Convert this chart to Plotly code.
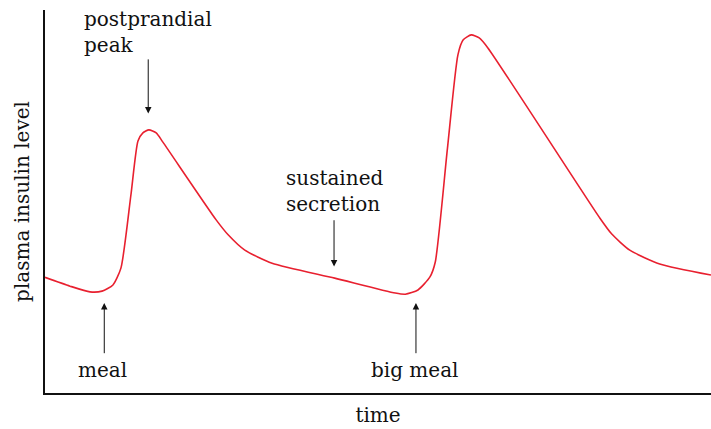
import plotly.graph_objects as go

# Plasma insulin level over time (arbitrary units, 0-100 on both axes)
time = [0, 3.75, 6.76, 8.56, 10.2, 11.4, 12.9, 13.96, 14.7, 15.6, 16.7, 17.7,
        25.7, 27.5, 30.0, 34.1, 43.5, 52.6, 54.1, 56.0, 57.8, 58.6, 60.4, 62.0,
        62.8, 64.0, 65.2, 66.5, 83.3, 85.1, 87.8, 92.3, 100]
insulin = [30.2, 27.9, 26.4, 26.6, 28.2, 32.6, 51.7, 65.8, 67.9, 68.7, 67.9, 65.5,
           45.2, 41.3, 37.3, 33.9, 30.0, 26.1, 25.8, 26.9, 30.3, 34.2, 63.4, 88.3,
           92.2, 93.5, 92.7, 90.1, 45.7, 41.5, 37.3, 33.7, 30.8]

# Annotation labels: (text, text x, text top y, arrow tail y, arrow head y, arrow x, align)
labels = [
    ("postprandial<br>peak", 5.6, 101.2, 87.5, 73.0, 15.5, "left"),
    ("meal", 8.6, 9.7, 10.0, 23.5, 8.9, "center"),
    ("sustained<br>secretion", 35.9, 59.8, 45.5, 33.0, 43.4, "left"),
    ("big meal", 55.5, 9.7, 10.0, 23.5, 55.7, "center"),
]

FONT = "DejaVu Serif"
SIZE = 20

fig = go.Figure()
fig.add_trace(go.Scatter(
    x=time, y=insulin, mode="lines",
    line=dict(color="#e8202f", width=1.6, shape="spline", smoothing=0.6),
    hoverinfo="skip", showlegend=False,
))

for text, tx, ty, tail_y, head_y, ax_x, align in labels:
    # text placed in paper units so labels above the top of the axis still show
    fig.add_annotation(
        x=tx / 100, y=ty / 100, xref="paper", yref="paper", text=text,
        showarrow=False,
        xanchor="left" if align == "left" else "center", yanchor="top",
        align=align, font=dict(family=FONT, size=SIZE, color="#111"),
    )
    fig.add_annotation(
        x=ax_x, y=head_y, ax=ax_x, ay=tail_y, xref="x", yref="y",
        axref="x", ayref="y", text="", showarrow=True,
        arrowhead=2, arrowsize=1.3, arrowwidth=1, arrowcolor="#111",
    )

fig.update_layout(
    width=711, height=429,
    margin=dict(l=45, r=0, t=10, b=36),
    paper_bgcolor="white", plot_bgcolor="white",
    font=dict(family=FONT, size=SIZE, color="#111"),
    xaxis=dict(
        range=[0, 100], showline=True, linecolor="#111", linewidth=1.6,
        showgrid=False, zeroline=False, showticklabels=False, ticks="",
        title=dict(text="time", standoff=14, font=dict(family=FONT, size=SIZE)),
    ),
    yaxis=dict(
        range=[0, 100], showline=True, linecolor="#111", linewidth=1.6,
        showgrid=False, zeroline=False, showticklabels=False, ticks="",
        title=dict(text="plasma insulin level", standoff=8,
                   font=dict(family=FONT, size=SIZE)),
    ),
)

fig.write_html("out.html")
